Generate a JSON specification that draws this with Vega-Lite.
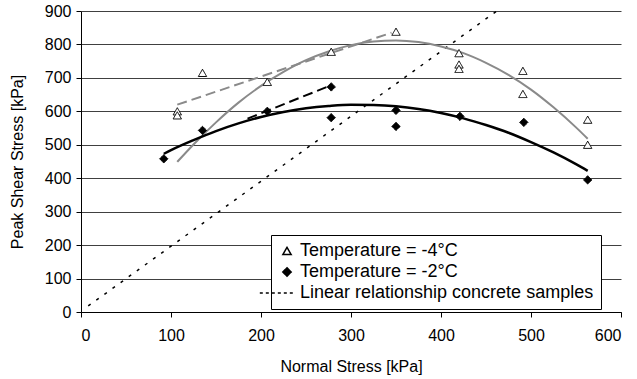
{
  "$schema": "https://vega.github.io/schema/vega-lite/v6.json",
  "width": 540,
  "height": 301,
  "autosize": {"type": "none"},
  "padding": {"left": 81, "top": 11, "right": 16, "bottom": 67},
  "background": "white",
  "config": {
    "view": {"stroke": null},
    "font": "Liberation Sans",
    "axis": {
      "labelFont": "Liberation Sans",
      "titleFont": "Liberation Sans",
      "labelFontSize": 16,
      "titleFontSize": 16,
      "titleFontWeight": "normal",
      "labelColor": "black",
      "titleColor": "black",
      "domainColor": "black",
      "domainWidth": 1,
      "tickColor": "black",
      "tickSize": 5,
      "tickWidth": 1
    },
    "legend": {
      "title": null, "orient": "none", "legendX": 190, "legendY": 224,
      "padding": 7, "strokeColor": "black", "fillColor": "white",
      "labelFontSize": 18, "labelFont": "Liberation Sans", "labelColor": "black",
      "labelLimit": 400, "symbolSize": 70, "rowPadding": 3, "labelOffset": 4
    }
  },
  "datasets": {
    "points": [
      {"x": 107, "y": 600, "series": "Temperature = -4°C"},
      {"x": 107, "y": 588, "series": "Temperature = -4°C"},
      {"x": 135, "y": 715, "series": "Temperature = -4°C"},
      {"x": 207, "y": 688, "series": "Temperature = -4°C"},
      {"x": 278, "y": 778, "series": "Temperature = -4°C"},
      {"x": 350, "y": 838, "series": "Temperature = -4°C"},
      {"x": 420, "y": 774, "series": "Temperature = -4°C"},
      {"x": 420, "y": 740, "series": "Temperature = -4°C"},
      {"x": 420, "y": 727, "series": "Temperature = -4°C"},
      {"x": 491, "y": 721, "series": "Temperature = -4°C"},
      {"x": 491, "y": 652, "series": "Temperature = -4°C"},
      {"x": 563, "y": 575, "series": "Temperature = -4°C"},
      {"x": 563, "y": 500, "series": "Temperature = -4°C"},
      {"x": 92, "y": 458, "series": "Temperature = -2°C"},
      {"x": 135, "y": 543, "series": "Temperature = -2°C"},
      {"x": 207, "y": 600, "series": "Temperature = -2°C"},
      {"x": 278, "y": 673, "series": "Temperature = -2°C"},
      {"x": 278, "y": 581, "series": "Temperature = -2°C"},
      {"x": 350, "y": 603, "series": "Temperature = -2°C"},
      {"x": 350, "y": 555, "series": "Temperature = -2°C"},
      {"x": 421, "y": 585, "series": "Temperature = -2°C"},
      {"x": 492, "y": 567, "series": "Temperature = -2°C"},
      {"x": 563, "y": 395, "series": "Temperature = -2°C"}
    ],
    "grayPoly": [
      {"x": 107, "y": 449}, {"x": 125, "y": 501}, {"x": 150, "y": 567}, {"x": 175, "y": 626},
      {"x": 200, "y": 676}, {"x": 225, "y": 718}, {"x": 250, "y": 753}, {"x": 275, "y": 779},
      {"x": 300, "y": 798}, {"x": 325, "y": 809}, {"x": 350, "y": 812}, {"x": 375, "y": 807},
      {"x": 400, "y": 794}, {"x": 425, "y": 774}, {"x": 450, "y": 745}, {"x": 475, "y": 709},
      {"x": 500, "y": 665}, {"x": 525, "y": 612}, {"x": 550, "y": 552}, {"x": 563, "y": 518}
    ],
    "blackPoly": [
      {"x": 92, "y": 473}, {"x": 100, "y": 484}, {"x": 125, "y": 514}, {"x": 150, "y": 541},
      {"x": 175, "y": 564}, {"x": 200, "y": 583}, {"x": 225, "y": 598}, {"x": 250, "y": 609},
      {"x": 275, "y": 616}, {"x": 300, "y": 620}, {"x": 325, "y": 619}, {"x": 350, "y": 615},
      {"x": 375, "y": 607}, {"x": 400, "y": 595}, {"x": 425, "y": 579}, {"x": 450, "y": 559},
      {"x": 475, "y": 536}, {"x": 500, "y": 508}, {"x": 525, "y": 477}, {"x": 550, "y": 442},
      {"x": 563, "y": 422}
    ],
    "grayDash": [{"x": 107, "y": 620}, {"x": 345, "y": 835}],
    "blackDash": [{"x": 185, "y": 578}, {"x": 278, "y": 678}],
    "concrete": [{"x": 8, "y": 18}, {"x": 462, "y": 900}]
  },
  "encoding": {
    "x": {
      "field": "x", "type": "quantitative",
      "scale": {"domain": [0, 600], "nice": false, "zero": false},
      "axis": {"values": [0, 100, 200, 300, 400, 500, 600], "grid": false, "title": "Normal Stress [kPa]", "labelPadding": 10, "titlePadding": 15}
    },
    "y": {
      "field": "y", "type": "quantitative",
      "scale": {"domain": [0, 900], "nice": false, "zero": false},
      "axis": {"values": [0, 100, 200, 300, 400, 500, 600, 700, 800, 900], "grid": true, "gridColor": "#404040", "gridWidth": 1, "title": "Peak Shear Stress [kPa]", "labelPadding": 5, "titlePadding": 19}
    }
  },
  "layer": [
    {
      "data": {"name": "concrete"},
      "mark": {"type": "line", "color": "black", "strokeWidth": 1.5, "strokeDash": [3, 7]}
    },
    {
      "data": {"name": "grayDash"},
      "mark": {"type": "line", "color": "#8a8a8a", "strokeWidth": 2, "strokeDash": [10, 5]}
    },
    {
      "data": {"name": "blackDash"},
      "mark": {"type": "line", "color": "black", "strokeWidth": 2, "strokeDash": [10, 5]}
    },
    {
      "data": {"name": "grayPoly"},
      "mark": {"type": "line", "color": "#8a8a8a", "strokeWidth": 2, "interpolate": "monotone"}
    },
    {
      "data": {"name": "blackPoly"},
      "mark": {"type": "line", "color": "black", "strokeWidth": 2.5, "interpolate": "monotone"}
    },
    {
      "data": {"name": "points"},
      "mark": {"type": "point", "strokeWidth": 1, "opacity": 1, "size": 70},
      "encoding": {
        "shape": {
          "field": "series", "type": "nominal",
          "scale": {
            "domain": ["Temperature = -4°C", "Temperature = -2°C", "Linear relationship concrete samples"],
            "range": ["triangle-up", "diamond", "M-6.5,0H1.4"]
          },
          "legend": {}
        },
        "fill": {
          "field": "series", "type": "nominal",
          "scale": {
            "domain": ["Temperature = -4°C", "Temperature = -2°C", "Linear relationship concrete samples"],
            "range": ["white", "black", "transparent"]
          },
          "legend": {}
        },
        "stroke": {
          "field": "series", "type": "nominal",
          "scale": {
            "domain": ["Temperature = -4°C", "Temperature = -2°C", "Linear relationship concrete samples"],
            "range": ["black", "black", "black"]
          },
          "legend": {}
        },
        "strokeDash": {
          "field": "series", "type": "nominal",
          "scale": {
            "domain": ["Temperature = -4°C", "Temperature = -2°C", "Linear relationship concrete samples"],
            "range": [[1, 0], [1, 0], [3, 3]]
          },
          "legend": {}
        }
      }
    }
  ]
}
